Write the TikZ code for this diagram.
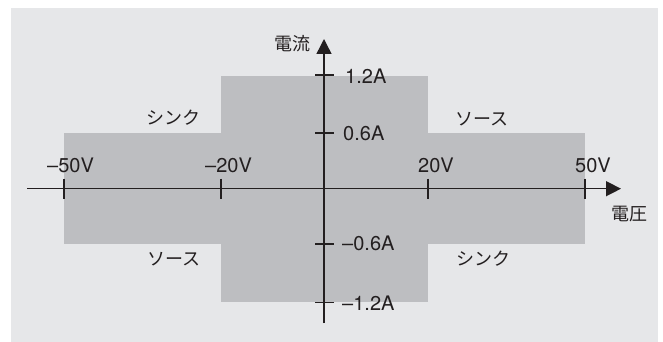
\documentclass[tikz,border=0pt]{standalone}
\usepackage{fontspec}
\setmainfont{TeX Gyre Heros}
\newfontfamily\jp{Noto Sans CJK JP}
\usetikzlibrary{arrows.meta}
\definecolor{bgc}{HTML}{E6E7E9}
\definecolor{shadec}{HTML}{BDBEC1}
\definecolor{inkc}{HTML}{231F20}
\tikzset{
  axisline/.style={draw=inkc, line width=1.4pt, -{Triangle[length=15pt,width=15pt]}},
  tickline/.style={draw=inkc, line width=1.3pt},
  lbl/.style={inner sep=0pt, text=inkc, font=\fontsize{20}{20}\selectfont},
  jlbl/.style={inner sep=0pt, text=inkc, font=\jp\fontsize{18}{18}\selectfont},
}
\begin{document}
\begin{tikzpicture}[x=1pt,y=-1pt]
\useasboundingbox (0,0) rectangle (663,342);
\fill[bgc] (11,8) rectangle (658,342);
\fill[shadec] (64,133) rectangle (585,244);
\fill[shadec] (221,76) rectangle (428,302);
\coordinate (xs) at (27,188.7);
\coordinate (xe) at (621,188.7);
\coordinate (ys) at (324,323);
\coordinate (ye) at (324,39);
\draw[axisline] (xs) -- (xe);
\draw[axisline] (ys) -- (ye);
% x ticks
\foreach \x in {64,221,428,585} \draw[tickline] (\x,178.5) -- (\x,198.5);
% y ticks
\foreach \y in {75,133,244,302.7} \draw[tickline] (315,\y) -- (334,\y);
% x labels
\node[lbl] (vm50) at (70.5,165) {–50V};
\node[lbl] (vm20) at (228.5,165) {–20V};
\node[lbl] (vp20) at (436,165) {20V};
\node[lbl] (vp50) at (593,165) {50V};
% y labels
\node[lbl, anchor=west] (ip12) at (345,76) {1.2A};
\node[lbl, anchor=west] (ip06) at (343,133) {0.6A};
\node[lbl, anchor=west] (im06) at (342,243) {–0.6A};
\node[lbl, anchor=west] (im12) at (342,303) {–1.2A};
% Japanese labels
\node[jlbl] (sink1) at (173,118) {シンク};
\node[jlbl] (src1) at (482,119) {ソース};
\node[jlbl] (src2) at (174,259) {ソース};
\node[jlbl] (sink2) at (483,259) {シンク};
\node[jlbl] (cur) at (292,44) {電流};
\node[jlbl] (volt) at (629,214) {電圧};
\end{tikzpicture}
\end{document}
